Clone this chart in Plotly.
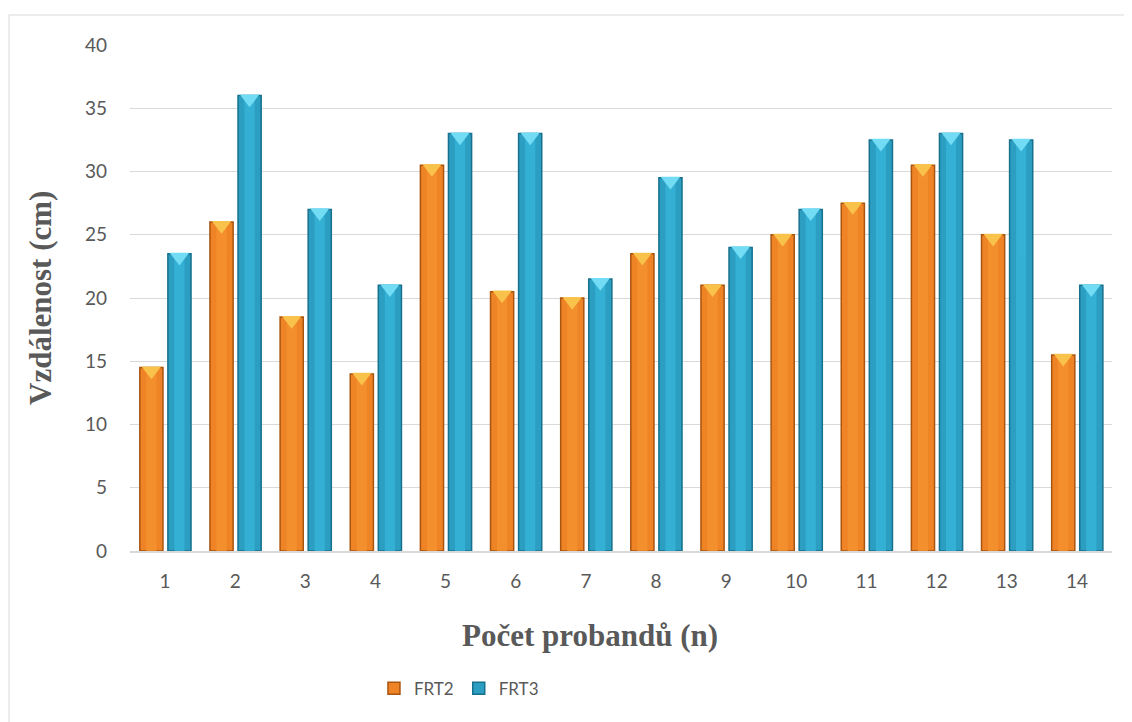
import plotly.graph_objects as go

categories = ["1", "2", "3", "4", "5", "6", "7", "8", "9", "10", "11", "12", "13", "14"]
frt2 = [14.5, 26, 18.5, 14, 30.5, 20.5, 20, 23.5, 21, 25, 27.5, 30.5, 25, 15.5]
frt3 = [23.5, 36, 27, 21, 33, 33, 21.5, 29.5, 24, 27, 32.5, 33, 32.5, 21]
y_ticks = [0, 5, 10, 15, 20, 25, 30, 35, 40]

xpos = list(range(1, len(categories) + 1))
W = 0.33
OFF2 = -0.36
OFF3 = 0.04

fig = go.Figure()

series = [
    ("FRT2", frt2, OFF2, "#EF8427", "#A9540F", "#F6922F", "#F9C24A"),
    ("FRT3", frt3, OFF3, "#2B9EC2", "#17708C", "#38B5DA", "#72DCF4"),
]

for name, vals, off, col, edge, hi, top in series:
    fig.add_trace(go.Bar(
        x=xpos, y=vals, name=name, offset=off, width=W,
        marker=dict(color=col, line=dict(color=edge, width=1.5)),
        legendgroup=name, showlegend=True, hoverinfo="skip",
    ))
    # central highlight strip
    fig.add_trace(go.Bar(
        x=xpos, y=vals, offset=off + W * 0.28, width=W * 0.44,
        marker=dict(color=hi, line=dict(width=0)), opacity=0.8,
        legendgroup=name, showlegend=False, hoverinfo="skip",
    ))
    # bevel on top
    fig.add_trace(go.Scatter(
        x=[p + off + W / 2 for p in xpos], y=[v - 0.25 for v in vals],
        mode="markers",
        marker=dict(symbol="triangle-down", size=17, color=top,
                    line=dict(width=0)),
        legendgroup=name, showlegend=False, hoverinfo="skip",
    ))

L, T = 122, 37
PW, PH = 982, 506
TITLE_FONT = dict(family="Liberation Serif, Times New Roman, serif", size=31, color="#595959")

fig.update_layout(
    barmode="overlay",
    width=1132, height=722,
    margin=dict(l=L, r=1132 - L - PW, t=T, b=722 - T - PH),
    paper_bgcolor="white", plot_bgcolor="white",
    font=dict(family="Lato, Open Sans, sans-serif", color="#595959", size=19),
    showlegend=True,
    legend=dict(orientation="h", x=0.335, xanchor="center", y=-0.272, yanchor="middle",
                font=dict(size=17, color="#595959"), itemwidth=30, traceorder="normal"),
    xaxis=dict(
        range=[0.5, 14.5], tickvals=xpos, ticktext=categories,
        showgrid=False, zeroline=False, showline=True, linecolor="#D9D9D9", linewidth=2,
        ticks="", ticklen=0, ticklabelstandoff=12, tickfont=dict(size=19, color="#595959"),
    ),
    yaxis=dict(
        range=[0, 40], tickvals=y_ticks, showgrid=True, gridcolor="#D9D9D9", gridwidth=1,
        zeroline=False, showline=False, ticks="", ticklabelstandoff=22,
        tickfont=dict(size=19, color="#595959"),
    ),
    annotations=[
        dict(text="<b>Počet probandů (n)</b>", xref="paper", yref="paper",
             x=(582 - L) / PW, y=1 - (627 - T) / PH, xanchor="center", yanchor="middle",
             showarrow=False, font=TITLE_FONT),
        dict(text="<b>Vzdálenost (cm)</b>", xref="paper", yref="paper",
             x=(32 - L) / PW, y=1 - (290 - T) / PH, xanchor="center", yanchor="middle",
             textangle=-90, showarrow=False, font=TITLE_FONT),
    ],
    shapes=[dict(type="rect", xref="paper", yref="paper",
                 x0=(1 - L) / PW, x1=1.05, y0=-0.5, y1=1 + (T - 7) / PH,
                 line=dict(color="#D9D9D9", width=1), fillcolor="rgba(0,0,0,0)", layer="below")],
)

fig.write_html("out.html")
